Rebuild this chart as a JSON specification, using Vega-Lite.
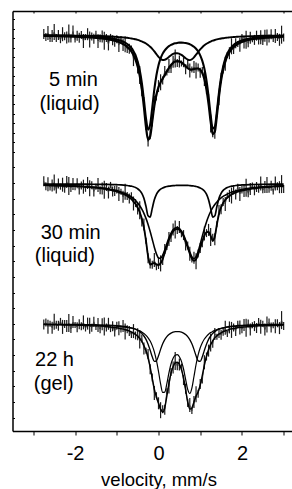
{
"$schema":"https://vega.github.io/schema/vega-lite/v6.json",
"width":279.5,"height":420,
"autosize":{"type":"none"},
"padding":{"left":12.5,"top":11,"right":0,"bottom":58},
"config":{"view":{"stroke":null},"font":"Liberation Sans","axis":{"grid":false}},
"datasets":{
"obs":[
{"v":-2.75,"y1":397.1,"y2":249.8,"y3":106.4,"e":5},
{"v":-2.7,"y1":394.1,"y2":244.7,"y3":108.4,"e":4},
{"v":-2.65,"y1":398.1,"y2":246.7,"y3":104.3,"e":7},
{"v":-2.6,"y1":392.0,"y2":243.6,"y3":107.3,"e":3},
{"v":-2.55,"y1":395.0,"y2":245.6,"y3":103.2,"e":6},
{"v":-2.5,"y1":399.0,"y2":248.5,"y3":109.2,"e":8},
{"v":-2.45,"y1":392.9,"y2":241.4,"y3":106.2,"e":4},
{"v":-2.4,"y1":395.9,"y2":247.4,"y3":105.2,"e":5},
{"v":-2.35,"y1":390.8,"y2":244.3,"y3":110.1,"e":3},
{"v":-2.3,"y1":396.8,"y2":246.3,"y3":104.1,"e":7},
{"v":-2.25,"y1":394.7,"y2":242.2,"y3":107.1,"e":4},
{"v":-2.2,"y1":393.6,"y2":249.1,"y3":105.1,"e":6},
{"v":-2.15,"y1":397.6,"y2":245.0,"y3":108.0,"e":9},
{"v":-2.1,"y1":392.5,"y2":243.0,"y3":102.0,"e":4},
{"v":-2.05,"y1":399.5,"y2":246.9,"y3":108.9,"e":6},
{"v":-2.0,"y1":391.4,"y2":243.8,"y3":105.9,"e":3},
{"v":-1.95,"y1":395.3,"y2":247.7,"y3":103.8,"e":5},
{"v":-1.9,"y1":393.2,"y2":241.6,"y3":106.7,"e":5},
{"v":-1.85,"y1":396.1,"y2":245.4,"y3":104.7,"e":4},
{"v":-1.8,"y1":390.0,"y2":244.3,"y3":108.6,"e":7},
{"v":-1.75,"y1":393.9,"y2":242.2,"y3":102.5,"e":3},
{"v":-1.7,"y1":396.8,"y2":248.0,"y3":107.4,"e":6},
{"v":-1.65,"y1":391.6,"y2":242.8,"y3":105.3,"e":8},
{"v":-1.6,"y1":394.5,"y2":245.7,"y3":103.3,"e":4},
{"v":-1.55,"y1":392.3,"y2":239.5,"y3":109.2,"e":5},
{"v":-1.5,"y1":397.2,"y2":244.3,"y3":104.1,"e":3},
{"v":-1.45,"y1":390.0,"y2":246.0,"y3":105.9,"e":7},
{"v":-1.4,"y1":392.7,"y2":240.8,"y3":101.8,"e":4},
{"v":-1.35,"y1":394.5,"y2":242.5,"y3":106.7,"e":6},
{"v":-1.3,"y1":390.2,"y2":241.3,"y3":104.5,"e":9},
{"v":-1.25,"y1":393.0,"y2":244.0,"y3":103.4,"e":4},
{"v":-1.2,"y1":386.6,"y2":238.5,"y3":107.2,"e":6},
{"v":-1.15,"y1":394.1,"y2":246.1,"y3":101.9,"e":3},
{"v":-1.1,"y1":390.7,"y2":239.6,"y3":104.7,"e":5},
{"v":-1.05,"y1":389.2,"y2":240.1,"y3":99.4,"e":5},
{"v":-1.0,"y1":391.7,"y2":241.6,"y3":105.2,"e":4},
{"v":-0.95,"y1":385.9,"y2":236.9,"y3":102.8,"e":7},
{"v":-0.9,"y1":392.1,"y2":239.2,"y3":101.4,"e":3},
{"v":-0.85,"y1":386.0,"y2":234.2,"y3":104.9,"e":6},
{"v":-0.8,"y1":386.8,"y2":239.2,"y3":99.4,"e":8},
{"v":-0.75,"y1":382.1,"y2":235.0,"y3":101.8,"e":4},
{"v":-0.7,"y1":382.2,"y2":232.5,"y3":100.0,"e":5},
{"v":-0.65,"y1":382.5,"y2":235.8,"y3":96.0,"e":3},
{"v":-0.6,"y1":371.9,"y2":227.5,"y3":99.9,"e":7},
{"v":-0.55,"y1":373.2,"y2":227.9,"y3":95.5,"e":4},
{"v":-0.5,"y1":363.5,"y2":222.4,"y3":96.7,"e":6},
{"v":-0.45,"y1":356.1,"y2":220.7,"y3":91.5,"e":9},
{"v":-0.4,"y1":338.8,"y2":208.4,"y3":92.5,"e":4},
{"v":-0.35,"y1":328.0,"y2":206.4,"y3":82.5,"e":6},
{"v":-0.3,"y1":304.0,"y2":190.2,"y3":80.2,"e":3},
{"v":-0.25,"y1":289.4,"y2":172.8,"y3":77.0,"e":5},
{"v":-0.2,"y1":296.7,"y2":167.4,"y3":61.8,"e":5},
{"v":-0.15,"y1":308.6,"y2":166.3,"y3":53.6,"e":4},
{"v":-0.1,"y1":328.2,"y2":171.0,"y3":37.9,"e":7},
{"v":-0.05,"y1":333.5,"y2":163.8,"y3":35.8,"e":3},
{"v":0.0,"y1":344.9,"y2":168.0,"y3":27.7,"e":6},
{"v":0.05,"y1":348.7,"y2":167.6,"y3":20.8,"e":8},
{"v":0.1,"y1":350.4,"y2":169.9,"y3":21.8,"e":4},
{"v":0.15,"y1":359.9,"y2":182.1,"y3":21.3,"e":5},
{"v":0.2,"y1":358.5,"y2":183.9,"y3":39.8,"e":3},
{"v":0.25,"y1":365.0,"y2":192.1,"y3":44.6,"e":7},
{"v":0.3,"y1":362.0,"y2":193.1,"y3":58.9,"e":4},
{"v":0.35,"y1":369.2,"y2":201.5,"y3":63.5,"e":6},
{"v":0.4,"y1":372.4,"y2":201.6,"y3":70.1,"e":9},
{"v":0.45,"y1":367.9,"y2":201.1,"y3":64.7,"e":4},
{"v":0.5,"y1":369.6,"y2":204.1,"y3":66.6,"e":6},
{"v":0.55,"y1":367.5,"y2":196.7,"y3":64.4,"e":3},
{"v":0.6,"y1":368.8,"y2":195.9,"y3":50.9,"e":5},
{"v":0.65,"y1":361.7,"y2":185.6,"y3":42.2,"e":5},
{"v":0.7,"y1":367.9,"y2":185.5,"y3":28.0,"e":4},
{"v":0.75,"y1":360.6,"y2":177.3,"y3":25.9,"e":7},
{"v":0.8,"y1":361.4,"y2":171.4,"y3":20.1,"e":3},
{"v":0.85,"y1":363.9,"y2":173.2,"y3":29.1,"e":6},
{"v":0.9,"y1":360.5,"y2":169.8,"y3":36.7,"e":8},
{"v":0.95,"y1":363.5,"y2":177.5,"y3":37.3,"e":4},
{"v":1.0,"y1":358.3,"y2":183.0,"y3":46.9,"e":5},
{"v":1.05,"y1":360.9,"y2":186.8,"y3":50.5,"e":3},
{"v":1.1,"y1":351.9,"y2":197.4,"y3":68.8,"e":7},
{"v":1.15,"y1":340.8,"y2":197.9,"y3":74.5,"e":4},
{"v":1.2,"y1":331.1,"y2":201.1,"y3":80.4,"e":6},
{"v":1.25,"y1":307.5,"y2":194.1,"y3":88.4,"e":9},
{"v":1.3,"y1":297.7,"y2":193.2,"y3":87.2,"e":4},
{"v":1.35,"y1":298.3,"y2":191.7,"y3":97.1,"e":6},
{"v":1.4,"y1":317.5,"y2":206.7,"y3":94.2,"e":3},
{"v":1.45,"y1":330.7,"y2":220.9,"y3":97.9,"e":5},
{"v":1.5,"y1":353.3,"y2":221.7,"y3":96.2,"e":5},
{"v":1.55,"y1":361.4,"y2":229.1,"y3":99.3,"e":4},
{"v":1.6,"y1":367.3,"y2":227.1,"y3":103.2,"e":7},
{"v":1.65,"y1":375.9,"y2":235.4,"y3":96.9,"e":3},
{"v":1.7,"y1":377.8,"y2":235.1,"y3":103.6,"e":6},
{"v":1.75,"y1":384.7,"y2":235.5,"y3":101.1,"e":8},
{"v":1.8,"y1":381.0,"y2":240.6,"y3":103.5,"e":4},
{"v":1.85,"y1":387.7,"y2":236.5,"y3":99.9,"e":5},
{"v":1.9,"y1":387.1,"y2":244.3,"y3":107.3,"e":3},
{"v":1.95,"y1":386.2,"y2":237.0,"y3":103.6,"e":7},
{"v":2.0,"y1":393.1,"y2":241.5,"y3":101.8,"e":4},
{"v":2.05,"y1":388.6,"y2":239.9,"y3":106.0,"e":6},
{"v":2.1,"y1":391.2,"y2":243.3,"y3":103.2,"e":9},
{"v":2.15,"y1":387.7,"y2":237.7,"y3":107.4,"e":4},
{"v":2.2,"y1":393.3,"y2":242.1,"y3":101.6,"e":6},
{"v":2.25,"y1":391.8,"y2":245.5,"y3":105.8,"e":3},
{"v":2.3,"y1":391.1,"y2":240.7,"y3":104.9,"e":5},
{"v":2.35,"y1":395.3,"y2":244.0,"y3":103.0,"e":5},
{"v":2.4,"y1":390.6,"y2":242.2,"y3":109.1,"e":4},
{"v":2.45,"y1":393.8,"y2":247.5,"y3":104.2,"e":7},
{"v":2.5,"y1":389.1,"y2":240.7,"y3":107.3,"e":3},
{"v":2.55,"y1":395.3,"y2":243.9,"y3":101.4,"e":6},
{"v":2.6,"y1":393.4,"y2":246.0,"y3":106.5,"e":8},
{"v":2.65,"y1":392.6,"y2":242.2,"y3":108.5,"e":4},
{"v":2.7,"y1":396.7,"y2":245.3,"y3":103.6,"e":5},
{"v":2.75,"y1":391.9,"y2":239.5,"y3":105.7,"e":3},
{"v":2.8,"y1":395.0,"y2":247.6,"y3":104.8,"e":7},
{"v":2.85,"y1":394.1,"y2":244.7,"y3":107.8,"e":4},
{"v":2.9,"y1":391.2,"y2":243.8,"y3":102.9,"e":6},
{"v":2.95,"y1":396.3,"y2":246.9,"y3":110.9,"e":9},
{"v":3.0,"y1":393.4,"y2":242.0,"y3":105.0,"e":4}
],
"fit":[
{"v":-2.75,"f1":395.1,"c1a":395.5,"c1b":395.7,"f2":245.8,"c2a":246.9,"c2b":245.8,"f3":106.4,"c3a":106.8,"c3b":106.6},
{"v":-2.5,"f1":395.0,"c1a":395.4,"c1b":395.6,"f2":245.5,"c2a":246.9,"c2b":245.6,"f3":106.2,"c3a":106.7,"c3b":106.5},
{"v":-2.25,"f1":394.7,"c1a":395.2,"c1b":395.5,"f2":245.2,"c2a":246.9,"c2b":245.3,"f3":106.1,"c3a":106.6,"c3b":106.4},
{"v":-2.0,"f1":394.4,"c1a":395.0,"c1b":395.4,"f2":244.8,"c2a":246.8,"c2b":245.0,"f3":105.9,"c3a":106.6,"c3b":106.3},
{"v":-1.75,"f1":393.9,"c1a":394.7,"c1b":395.3,"f2":244.2,"c2a":246.8,"c2b":244.4,"f3":105.5,"c3a":106.4,"c3b":106.1},
{"v":-1.5,"f1":393.2,"c1a":394.2,"c1b":395.0,"f2":243.3,"c2a":246.7,"c2b":243.6,"f3":105.1,"c3a":106.2,"c3b":105.9},
{"v":-1.25,"f1":392.0,"c1a":393.3,"c1b":394.7,"f2":242.0,"c2a":246.6,"c2b":242.4,"f3":104.4,"c3a":105.9,"c3b":105.5},
{"v":-1.0,"f1":389.7,"c1a":391.6,"c1b":394.1,"f2":239.6,"c2a":246.3,"c2b":240.4,"f3":103.2,"c3a":105.4,"c3b":104.8},
{"v":-0.9,"f1":388.1,"c1a":390.3,"c1b":393.8,"f2":238.2,"c2a":246.1,"c2b":239.1,"f3":102.4,"c3a":105.0,"c3b":104.4},
{"v":-0.8,"f1":385.8,"c1a":388.4,"c1b":393.4,"f2":236.2,"c2a":245.7,"c2b":237.5,"f3":101.4,"c3a":104.5,"c3b":103.9},
{"v":-0.75,"f1":384.1,"c1a":387.0,"c1b":393.2,"f2":235.0,"c2a":245.5,"c2b":236.5,"f3":100.8,"c3a":104.1,"c3b":103.6},
{"v":-0.7,"f1":382.2,"c1a":385.3,"c1b":392.9,"f2":233.5,"c2a":245.2,"c2b":235.3,"f3":100.0,"c3a":103.7,"c3b":103.2},
{"v":-0.65,"f1":379.5,"c1a":383.0,"c1b":392.5,"f2":231.8,"c2a":244.8,"c2b":234.0,"f3":99.0,"c3a":103.2,"c3b":102.8},
{"v":-0.6,"f1":375.9,"c1a":379.8,"c1b":392.1,"f2":229.5,"c2a":244.3,"c2b":232.3,"f3":97.9,"c3a":102.6,"c3b":102.3},
{"v":-0.55,"f1":371.2,"c1a":375.6,"c1b":391.7,"f2":226.9,"c2a":243.5,"c2b":230.4,"f3":96.5,"c3a":101.8,"c3b":101.7},
{"v":-0.5,"f1":364.5,"c1a":369.4,"c1b":391.1,"f2":223.4,"c2a":242.3,"c2b":228.1,"f3":94.7,"c3a":100.8,"c3b":101.0},
{"v":-0.45,"f1":355.1,"c1a":360.7,"c1b":390.4,"f2":218.7,"c2a":240.5,"c2b":225.2,"f3":92.5,"c3a":99.4,"c3b":100.1},
{"v":-0.4,"f1":341.8,"c1a":348.2,"c1b":389.6,"f2":212.4,"c2a":237.6,"c2b":221.8,"f3":89.5,"c3a":97.6,"c3b":98.9},
{"v":-0.35,"f1":324.0,"c1a":331.3,"c1b":388.7,"f2":203.4,"c2a":232.7,"c2b":217.7,"f3":85.5,"c3a":95.0,"c3b":97.5},
{"v":-0.3,"f1":304.0,"c1a":312.6,"c1b":387.5,"f2":190.2,"c2a":224.6,"c2b":212.6,"f3":80.2,"c3a":91.6,"c3b":95.6},
{"v":-0.25,"f1":291.4,"c1a":301.4,"c1b":386.0,"f2":174.8,"c2a":215.2,"c2b":206.6,"f3":73.0,"c3a":86.8,"c3b":93.2},
{"v":-0.2,"f1":294.7,"c1a":306.5,"c1b":384.2,"f2":166.4,"c2a":213.9,"c2b":199.5,"f3":63.8,"c3a":80.8,"c3b":90.0},
{"v":-0.15,"f1":309.6,"c1a":323.5,"c1b":382.1,"f2":167.3,"c2a":222.6,"c2b":191.7,"f3":52.6,"c3a":74.2,"c3b":85.4},
{"v":-0.1,"f1":325.2,"c1a":341.6,"c1b":379.6,"f2":168.0,"c2a":231.2,"c2b":183.8,"f3":41.9,"c3a":69.7,"c3b":79.2},
{"v":-0.05,"f1":336.5,"c1a":355.7,"c1b":376.8,"f2":166.8,"c2a":236.7,"c2b":177.1,"f3":33.8,"c3a":70.2,"c3b":70.6},
{"v":0.0,"f1":343.9,"c1a":365.7,"c1b":374.2,"f2":166.0,"c2a":239.9,"c2b":173.1,"f3":27.7,"c3a":75.2,"c3b":59.5},
{"v":0.05,"f1":348.7,"c1a":372.6,"c1b":372.1,"f2":167.6,"c2a":241.9,"c2b":172.7,"f3":21.8,"c3a":81.6,"c3b":47.2},
{"v":0.1,"f1":352.4,"c1a":377.4,"c1b":371.0,"f2":171.9,"c2a":243.1,"c2b":175.8,"f3":18.8,"c3a":87.2,"c3b":38.6},
{"v":0.15,"f1":355.9,"c1a":380.7,"c1b":371.2,"f2":178.1,"c2a":243.9,"c2b":181.2,"f3":23.3,"c3a":91.4,"c3b":38.9},
{"v":0.2,"f1":359.5,"c1a":383.1,"c1b":372.4,"f2":184.9,"c2a":244.5,"c2b":187.4,"f3":34.8,"c3a":94.4,"c3b":47.4},
{"v":0.25,"f1":363.0,"c1a":384.9,"c1b":374.1,"f2":191.1,"c2a":244.9,"c2b":193.2,"f3":47.6,"c3a":96.5,"c3b":58.1},
{"v":0.3,"f1":366.0,"c1a":386.2,"c1b":375.8,"f2":196.1,"c2a":245.2,"c2b":197.9,"f3":57.9,"c3a":97.9,"c3b":67.0},
{"v":0.35,"f1":368.2,"c1a":387.1,"c1b":377.1,"f2":199.5,"c2a":245.4,"c2b":201.2,"f3":64.5,"c3a":98.8,"c3b":72.7},
{"v":0.4,"f1":369.4,"c1a":387.7,"c1b":377.7,"f2":201.6,"c2a":245.5,"c2b":203.1,"f3":68.1,"c3a":99.3,"c3b":75.8},
{"v":0.45,"f1":369.9,"c1a":388.1,"c1b":377.8,"f2":202.1,"c2a":245.6,"c2b":203.5,"f3":68.7,"c3a":99.4,"c3b":76.3},
{"v":0.5,"f1":369.6,"c1a":388.4,"c1b":377.2,"f2":201.1,"c2a":245.7,"c2b":202.4,"f3":66.6,"c3a":99.3,"c3b":74.3},
{"v":0.55,"f1":368.5,"c1a":388.4,"c1b":376.1,"f2":198.7,"c2a":245.7,"c2b":200.0,"f3":61.4,"c3a":98.8,"c3b":69.6},
{"v":0.6,"f1":366.8,"c1a":388.3,"c1b":374.5,"f2":194.9,"c2a":245.7,"c2b":196.2,"f3":52.9,"c3a":97.9,"c3b":62.0},
{"v":0.65,"f1":364.7,"c1a":388.0,"c1b":372.7,"f2":189.6,"c2a":245.6,"c2b":191.0,"f3":41.2,"c3a":96.5,"c3b":51.7},
{"v":0.7,"f1":362.9,"c1a":387.5,"c1b":371.4,"f2":183.5,"c2a":245.6,"c2b":184.9,"f3":29.0,"c3a":94.4,"c3b":41.6},
{"v":0.75,"f1":361.6,"c1a":386.7,"c1b":370.9,"f2":177.3,"c2a":245.4,"c2b":178.9,"f3":21.9,"c3a":91.4,"c3b":37.5},
{"v":0.8,"f1":361.4,"c1a":385.7,"c1b":371.7,"f2":172.4,"c2a":245.2,"c2b":174.2,"f3":23.1,"c3a":87.2,"c3b":42.9},
{"v":0.85,"f1":361.9,"c1a":384.2,"c1b":373.7,"f2":170.2,"c2a":245.0,"c2b":172.3,"f3":29.1,"c3a":81.6,"c3b":54.5},
{"v":0.9,"f1":362.5,"c1a":382.2,"c1b":376.3,"f2":171.8,"c2a":244.5,"c2b":174.3,"f3":34.7,"c3a":75.2,"c3b":66.5},
{"v":0.95,"f1":362.5,"c1a":379.5,"c1b":379.0,"f2":176.5,"c2a":243.9,"c2b":179.6,"f3":39.3,"c3a":70.2,"c3b":76.1},
{"v":1.0,"f1":361.3,"c1a":375.7,"c1b":381.6,"f2":183.0,"c2a":243.1,"c2b":186.9,"f3":45.9,"c3a":69.7,"c3b":83.2},
{"v":1.05,"f1":357.9,"c1a":370.1,"c1b":383.8,"f2":189.8,"c2a":241.9,"c2b":194.9,"f3":55.5,"c3a":74.2,"c3b":88.3},
{"v":1.1,"f1":351.9,"c1a":362.2,"c1b":385.7,"f2":195.4,"c2a":240.0,"c2b":202.4,"f3":65.8,"c3a":80.8,"c3b":92.0},
{"v":1.15,"f1":341.8,"c1a":350.6,"c1b":387.2,"f2":198.9,"c2a":236.8,"c2b":209.1,"f3":74.5,"c3a":86.8,"c3b":94.7},
{"v":1.2,"f1":327.1,"c1a":334.7,"c1b":388.4,"f2":199.1,"c2a":231.3,"c2b":214.8,"f3":81.4,"c3a":91.6,"c3b":96.8},
{"v":1.25,"f1":309.5,"c1a":316.1,"c1b":389.4,"f2":195.1,"c2a":222.6,"c2b":219.5,"f3":86.4,"c3a":95.0,"c3b":98.4},
{"v":1.3,"f1":296.7,"c1a":302.4,"c1b":390.3,"f2":190.2,"c2a":213.9,"c2b":223.3,"f3":90.2,"c3a":97.6,"c3b":99.6},
{"v":1.35,"f1":299.3,"c1a":304.3,"c1b":391.0,"f2":194.7,"c2a":215.2,"c2b":226.5,"f3":93.1,"c3a":99.4,"c3b":100.6},
{"v":1.4,"f1":315.5,"c1a":319.9,"c1b":391.6,"f2":206.7,"c2a":224.6,"c2b":229.1,"f3":95.2,"c3a":100.8,"c3b":101.4},
{"v":1.45,"f1":334.7,"c1a":338.6,"c1b":392.1,"f2":216.9,"c2a":232.7,"c2b":231.2,"f3":96.9,"c3a":101.8,"c3b":102.1},
{"v":1.5,"f1":350.3,"c1a":353.8,"c1b":392.5,"f2":223.7,"c2a":237.6,"c2b":233.1,"f3":98.2,"c3a":102.6,"c3b":102.6},
{"v":1.55,"f1":361.4,"c1a":364.6,"c1b":392.8,"f2":228.1,"c2a":240.6,"c2b":234.6,"f3":99.3,"c3a":103.2,"c3b":103.1},
{"v":1.6,"f1":369.3,"c1a":372.2,"c1b":393.1,"f2":231.1,"c2a":242.3,"c2b":235.8,"f3":100.2,"c3a":103.7,"c3b":103.5},
{"v":1.65,"f1":374.9,"c1a":377.5,"c1b":393.4,"f2":233.4,"c2a":243.5,"c2b":236.9,"f3":100.9,"c3a":104.1,"c3b":103.8},
{"v":1.7,"f1":378.8,"c1a":381.2,"c1b":393.6,"f2":235.1,"c2a":244.3,"c2b":237.9,"f3":101.6,"c3a":104.5,"c3b":104.1},
{"v":1.75,"f1":381.7,"c1a":383.9,"c1b":393.8,"f2":236.5,"c2a":244.8,"c2b":238.7,"f3":102.1,"c3a":104.8,"c3b":104.3},
{"v":1.8,"f1":384.0,"c1a":386.0,"c1b":394.0,"f2":237.6,"c2a":245.2,"c2b":239.4,"f3":102.5,"c3a":105.0,"c3b":104.6},
{"v":1.85,"f1":385.7,"c1a":387.6,"c1b":394.1,"f2":238.5,"c2a":245.5,"c2b":240.0,"f3":102.9,"c3a":105.2,"c3b":104.7},
{"v":1.9,"f1":387.1,"c1a":388.8,"c1b":394.3,"f2":239.3,"c2a":245.7,"c2b":240.6,"f3":103.3,"c3a":105.3,"c3b":104.9},
{"v":1.95,"f1":388.2,"c1a":389.8,"c1b":394.4,"f2":240.0,"c2a":245.9,"c2b":241.1,"f3":103.6,"c3a":105.5,"c3b":105.1},
{"v":2.0,"f1":389.1,"c1a":390.6,"c1b":394.5,"f2":240.5,"c2a":246.1,"c2b":241.5,"f3":103.8,"c3a":105.6,"c3b":105.2},
{"v":2.25,"f1":391.8,"c1a":392.9,"c1b":394.9,"f2":242.5,"c2a":246.5,"c2b":243.1,"f3":104.8,"c3a":106.1,"c3b":105.7},
{"v":2.5,"f1":393.1,"c1a":394.0,"c1b":395.2,"f2":243.7,"c2a":246.7,"c2b":244.1,"f3":105.3,"c3a":106.3,"c3b":106.0},
{"v":2.75,"f1":393.9,"c1a":394.6,"c1b":395.3,"f2":244.5,"c2a":246.8,"c2b":244.7,"f3":105.7,"c3a":106.5,"c3b":106.2},
{"v":3.0,"f1":394.4,"c1a":394.9,"c1b":395.5,"f2":245.0,"c2a":246.9,"c2b":245.2,"f3":106.0,"c3a":106.6,"c3b":106.4}
],
"labels":[
{"v":-2.625,"y":345,"label":"5 min"},
{"v":-2.852,"y":321,"label":"(liquid)"},
{"v":-2.824,"y":191.7,"label":"30 min"},
{"v":-2.965,"y":169.5,"label":"(liquid)"},
{"v":-2.96,"y":65.3,"label":"22 h"},
{"v":-2.99,"y":41,"label":"(gel)"}
]
},
"resolve":{"axis":{"x":"independent","y":"independent"}},
"layer":[
{"data":{"name":"obs"},
 "mark":{"type":"errorbar","color":"#1a1a1a","thickness":1.2},
 "encoding":{
  "x":{"field":"v","type":"quantitative","scale":{"domain":[-3.5,3.2],"nice":false,"zero":false},
   "axis":{"orient":"bottom","values":[-3,-2,-1,0,1,2,3],"labelExpr":"datum.value % 2 === 0 ? '' + datum.value : ''","labelOverlap":false,"labelFlush":false,"labelFontSize":20,"labelColor":"black","labelBaseline":"alphabetic","labelPadding":24,"tickSize":4,"tickColor":"black","domainColor":"black","domainWidth":1.5,"title":"velocity, mm/s","titleFontSize":18.5,"titleFontWeight":"normal","titleColor":"black","titleX":146,"titleY":54,"titleBaseline":"alphabetic","titleAlign":"center"}},
  "y":{"field":"y1","type":"quantitative","scale":{"domain":[0,420],"nice":false,"zero":false},
   "axis":{"orient":"left","values":[411.7,402.25,392.8,383.35,373.9,364.45,355.0,345.55,336.1,326.65,317.2,307.75,298.3,288.85,279.4,263.7,248.05,232.4,216.75,201.1,185.45,169.8,154.15,138.5,122.85,107.2,91.55,75.9,60.25,44.6,28.95,13.3],"labels":false,"tickSize":-2,"tickColor":"black","domainColor":"black","domainWidth":1.5,"title":null}},
  "yError":{"field":"e"}
 }},
{"data":{"name":"obs"},
 "mark":{"type":"errorbar","color":"#1a1a1a","thickness":1.2},
 "encoding":{
  "x":{"field":"v","type":"quantitative","axis":null},
  "y":{"field":"y2","type":"quantitative","axis":null},
  "yError":{"field":"e"}
 }},
{"data":{"name":"obs"},
 "mark":{"type":"errorbar","color":"#1a1a1a","thickness":1.2},
 "encoding":{
  "x":{"field":"v","type":"quantitative","axis":null},
  "y":{"field":"y3","type":"quantitative","axis":null},
  "yError":{"field":"e"}
 }},
{"data":{"name":"obs"},
 "transform":[{"fold":["y1","y2","y3"],"as":["spectrum","counts"]}],
 "mark":{"type":"line","color":"#333333","strokeWidth":0.8},
 "encoding":{
  "x":{"field":"v","type":"quantitative","axis":null},
  "y":{"field":"counts","type":"quantitative","axis":null},
  "detail":{"field":"spectrum","type":"nominal"}
 }},
{"data":{"name":"fit"},
 "transform":[{"fold":["f1","c1a","c1b","f2","c2a","c2b","f3","c3a","c3b"],"as":["key","value"]}],
 "mark":{"type":"line","color":"black","interpolate":"monotone"},
 "encoding":{
  "x":{"field":"v","type":"quantitative",
   "axis":{"orient":"top","values":[-3,-2,-1,0,1,2,3],"labels":false,"tickSize":-2,"tickColor":"black","domainColor":"black","domainWidth":1.5,"title":null}},
  "y":{"field":"value","type":"quantitative","axis":null},
  "detail":{"field":"key","type":"nominal"},
  "strokeWidth":{"field":"key","type":"nominal","scale":{"domain":["f1","c1a","c1b","f2","c2a","c2b","f3","c3a","c3b"],"range":[2.2,1.2,1.2,2.2,1.2,1.2,2.2,1.2,1.2]},"legend":null}
 }},
{"data":{"name":"labels"},
 "mark":{"type":"text","align":"left","baseline":"alphabetic","fontSize":20,"color":"black","font":"Liberation Sans"},
 "encoding":{
  "x":{"field":"v","type":"quantitative","axis":null},
  "y":{"field":"y","type":"quantitative","axis":null},
  "text":{"field":"label"}
 }}
]
}
